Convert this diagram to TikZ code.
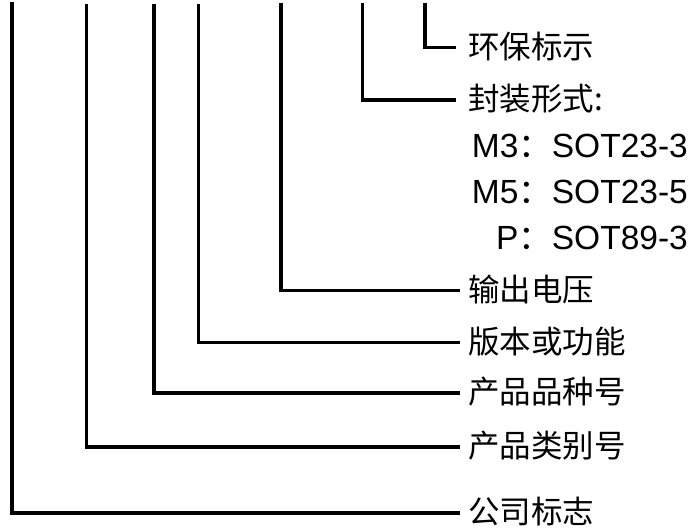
\documentclass[tikz,border=0pt]{standalone}
\usepackage{fontspec}
\setmainfont{Liberation Sans}
\newfontfamily\cjk{Noto Sans CJK SC}
\begin{document}
\begin{tikzpicture}[x=1pt,y=-1pt,
  conn/.style={line width=3.2pt},
  lab/.style={anchor=base west,inner sep=0pt,font=\cjk\fontsize{31.5}{36}\selectfont},
  pkg/.style={anchor=base east,inner sep=0pt,font=\fontsize{33.5}{38}\selectfont}]
\useasboundingbox (0,0) rectangle (689,529);
% top ends of connectors
\coordinate (t1) at (425,3);
\coordinate (t2) at (362.5,3);
\coordinate (t3) at (281,3);
\coordinate (t4) at (198.5,4);
\coordinate (t5) at (154,4);
\coordinate (t6) at (86.5,4);
\coordinate (t7) at (12,2);
% labels (base line about 11pt below the middle of the text)
\node[lab] (l1) at (468,47.7+11) {环保标示};
\node[lab] (l2) at (468,100+11) {封装形式:};
\node[pkg] (m3) at (688,146+12) {M3{\cjk ：}SOT23-3};
\node[pkg] (m5) at (688,192+12) {M5{\cjk ：}SOT23-5};
\node[pkg] (p3) at (688,238+12) {P{\cjk ：}SOT89-3};
\node[lab] (l3) at (468,290.7+11) {输出电压};
\node[lab] (l4) at (468,342.7+11) {版本或功能};
\node[lab] (l5) at (468,393+11) {产品品种号};
\node[lab] (l6) at (468,447+11) {产品类别号};
\node[lab] (l7) at (468,513+11) {公司标志};
% connector ends
\coordinate (e1) at (456,47.7);
\coordinate (e2) at (456,100);
\coordinate (e3) at (460,290.7);
\coordinate (e4) at (460,342.7);
\coordinate (e5) at (460,393);
\coordinate (e6) at (460,447);
\coordinate (e7) at (460,513);
\draw[conn] (t1) |- (e1);
\draw[conn] (t2) |- (e2);
\draw[conn] (t3) |- (e3);
\draw[conn] (t4) |- (e4);
\draw[conn] (t5) |- (e5);
\draw[conn] (t6) |- (e6);
\draw[conn] (t7) |- (e7);
\end{tikzpicture}
\end{document}
